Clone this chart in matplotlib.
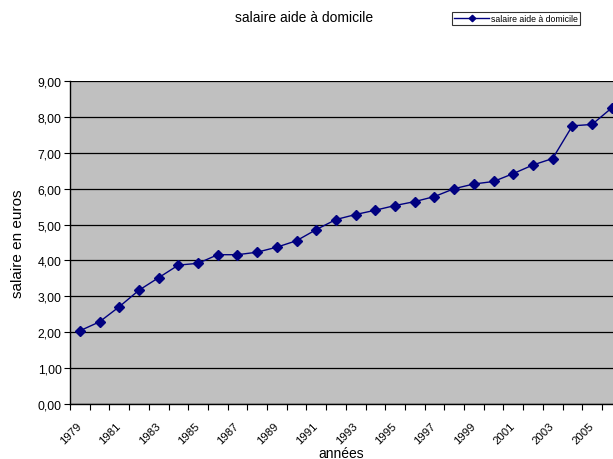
import numpy as np
import matplotlib
matplotlib.use("Agg")
import matplotlib.pyplot as plt

plt.rcParams["font.family"] = ["Liberation Sans", "DejaVu Sans"]

years = [1979, 1980, 1981, 1982, 1983, 1984, 1985, 1986, 1987, 1988,
         1989, 1990, 1991, 1992, 1993, 1994, 1995, 1996, 1997, 1998,
         1999, 2000, 2001, 2002, 2003, 2004, 2005, 2006]
salaire = [2.04, 2.29, 2.71, 3.17, 3.52, 3.87, 3.92, 4.16, 4.16, 4.23,
           4.37, 4.55, 4.86, 5.14, 5.28, 5.40, 5.53, 5.64, 5.78, 6.00,
           6.13, 6.20, 6.42, 6.66, 6.84, 7.75, 7.79, 8.25]
y_ticks = [0, 1, 2, 3, 4, 5, 6, 7, 8, 9]

NAVY = "#000080"
PLOT_BG = "#C0C0C0"

fig = plt.figure(figsize=(6.13, 4.6), dpi=100)
# plot area runs a little past the right edge of the figure
ax = fig.add_axes([70 / 613, 55 / 460, 551.6 / 613, 323 / 460])
ax.set_facecolor(PLOT_BG)

x = np.arange(len(years))
line, = ax.plot(x, salaire, color=NAVY, lw=1.0, marker="D", ms=5.5,
                mfc=NAVY, mec=NAVY, label="salaire aide à domicile",
                clip_on=False, zorder=3)

ax.set_xlim(-0.5, len(years) - 0.5)
ax.set_ylim(0, 9)

# y axis: comma decimals, black horizontal gridlines
ax.set_yticks(y_ticks)
ax.set_yticklabels([f"{v:.2f}".replace(".", ",") for v in y_ticks], fontsize=8.8)
ax.grid(axis="y", color="black", lw=0.9)
ax.set_axisbelow(True)

# x axis: tick marks on category boundaries, labels every other year
ax.set_xticks(np.arange(-0.5, len(years), 1.0))
ax.set_xticklabels([])
ax.set_xticks(x[::2], minor=True)
ax.set_xticklabels([str(y) for y in years[::2]], minor=True, rotation=45,
                   ha="right", va="center", rotation_mode="anchor", fontsize=8.2)
ax.tick_params(axis="x", which="major", direction="out", length=4, width=0.8)
ax.tick_params(axis="x", which="minor", length=0, pad=14)
ax.tick_params(axis="y", direction="out", length=4, width=0.8, pad=2)

for side in ["top", "right"]:
    ax.spines[side].set_visible(False)
for side in ["left", "bottom"]:
    ax.spines[side].set_color("black")
    ax.spines[side].set_linewidth(1.0)

ax.set_ylabel("salaire en euros", fontsize=11, labelpad=9)
fig.text(341 / 613, 1 - 458 / 460, "années", ha="center", va="baseline", fontsize=10)

fig.text(304 / 613, 1 - 18 / 460, "salaire aide à domicile", ha="center",
         va="center", fontsize=10)

leg = fig.legend(handles=[line], loc="upper left",
                 bbox_to_anchor=(452 / 613, 1 - 13 / 460), fontsize=6.3,
                 frameon=True, fancybox=False, shadow=False,
                 handlelength=4.0, handletextpad=0.2, borderpad=0.25,
                 borderaxespad=0, markerscale=0.6)
leg.get_frame().set_edgecolor("black")
leg.get_frame().set_linewidth(0.8)

fig.savefig("out.png", dpi=100, facecolor="white")
